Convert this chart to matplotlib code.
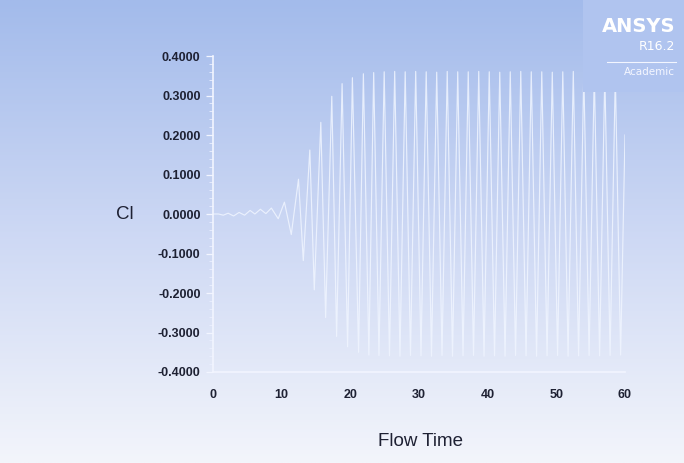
import numpy as np
import matplotlib
matplotlib.use("Agg")
import matplotlib.pyplot as plt
from matplotlib.patches import Rectangle
from matplotlib.lines import Line2D

# ---- data (successive extrema of Cl vs flow time) ----
cl_time = [0.0, 0.8, 1.5, 2.2, 3.0, 3.8, 4.6, 5.4, 6.1, 6.9, 7.7, 8.5, 9.5, 10.4,
           11.4, 12.45, 13.15, 14.1, 14.75, 15.7, 16.4, 17.3, 18.0, 18.8, 19.6,
           20.3, 21.2, 21.9, 22.7,
           23.40, 24.17, 24.93, 25.70, 26.46, 27.23, 27.99, 28.76, 29.52, 30.29,
           31.05, 31.82, 32.58, 33.35, 34.11, 34.88, 35.64, 36.41, 37.17, 37.94,
           38.70, 39.47, 40.23, 41.00, 41.76, 42.53, 43.29, 44.06, 44.82, 45.59,
           46.35, 47.12, 47.88, 48.65, 49.41, 50.18, 50.94, 51.71, 52.47, 53.24,
           54.00, 54.77, 55.53, 56.30, 57.06, 57.83, 58.59, 59.36, 60.0]
cl_value = [0.0, 0.0, -0.003, 0.002, -0.005, 0.004, -0.003, 0.009, 0.0, 0.012, 0.001,
            0.015, -0.012, 0.030, -0.052, 0.088, -0.118, 0.162, -0.192, 0.232, -0.262,
            0.298, -0.310, 0.330, -0.336, 0.345, -0.350, 0.355, -0.357,
            0.358, -0.358, 0.360, -0.359, 0.361, -0.360, 0.360, -0.358, 0.361, -0.359,
            0.360, -0.360, 0.359, -0.358, 0.361, -0.360, 0.360, -0.359, 0.360, -0.358,
            0.361, -0.360, 0.360, -0.359, 0.359, -0.360, 0.360, -0.358, 0.361, -0.359,
            0.360, -0.360, 0.360, -0.359, 0.359, -0.358, 0.360, -0.360, 0.361, -0.359,
            0.360, -0.358, 0.358, -0.359, 0.356, -0.358, 0.352, -0.357, 0.20]
y_ticks = [-0.4, -0.3, -0.2, -0.1, 0.0, 0.1, 0.2, 0.3, 0.4]
x_ticks = [0, 10, 20, 30, 40, 50, 60]
x_label = "Flow Time"
y_label = "Cl"

W, H = 684, 463
fig = plt.figure(figsize=(W / 100, H / 100), dpi=100)

# gradient background
bg = fig.add_axes([0, 0, 1, 1], zorder=-2)
top = np.array([163, 187, 235]) / 255.0
mid = np.array([205, 216, 244]) / 255.0
bot = np.array([243, 245, 251]) / 255.0
n = 256
s = np.linspace(0, 1, n)[:, None]
grad = np.where(s < 0.5, top + (mid - top) * (s / 0.5), mid + (bot - mid) * ((s - 0.5) / 0.5))
grad = np.repeat(grad[:, None, :], 2, axis=1)
bg.imshow(grad, aspect="auto", extent=[0, 1, 0, 1], origin="upper")
bg.set_axis_off()

# main axes
x0, x1 = 213, 625
y0, y1 = 56, 372
ax = fig.add_axes([x0 / W, 1 - y1 / H, (x1 - x0) / W, (y1 - y0) / H], zorder=1)
ax.set_facecolor("none")
ax.plot(cl_time, cl_value, color=(0.94, 0.96, 1.0), lw=0.85, alpha=0.85)
ax.set_xlim(0, 60)
ax.set_ylim(-0.4, 0.4)

for side in ["top", "right"]:
    ax.spines[side].set_visible(False)
for side in ["left", "bottom"]:
    ax.spines[side].set_color((0.95, 0.96, 1.0))
    ax.spines[side].set_linewidth(1.2)

ax.set_yticks(y_ticks)
ax.set_yticklabels([f"{abs(v):.4f}" if abs(v) < 1e-12 else f"{v:.4f}" for v in y_ticks])
ax.set_yticks(np.arange(-0.4, 0.4001, 0.02), minor=True)
ax.set_xticks(x_ticks)
ax.set_xticklabels([str(v) for v in x_ticks])

tick_color = "#1e2133"
ax.tick_params(axis="y", which="major", length=5, width=0.9, color=(0.95, 0.96, 1.0),
               labelsize=9, labelcolor=tick_color, pad=4)
ax.tick_params(axis="y", which="minor", length=3, width=0.6, color=(0.92, 0.94, 1.0))
ax.tick_params(axis="x", which="major", length=0, labelsize=9, labelcolor=tick_color, pad=12)
for lab in ax.get_xticklabels() + ax.get_yticklabels():
    lab.set_fontfamily("Liberation Sans")
    lab.set_fontweight("bold")

fig.text(125 / W, 1 - 214 / H, y_label, fontsize=13.5, family="Liberation Sans",
         color="#1e2133", ha="center", va="center")
fig.text(420 / W, 1 - 441 / H, x_label, fontsize=13.5, family="Liberation Sans",
         color="#1e2133", ha="center", va="center")

# ANSYS logo box
box = Rectangle((583 / W, 1 - 92 / H), (W - 583) / W, 92 / H, transform=fig.transFigure,
                facecolor=(176 / 255, 196 / 255, 239 / 255), edgecolor="none", zorder=5)
fig.add_artist(box)
fig.text(675 / W, 1 - 27 / H, "ANSYS", fontsize=14, fontweight="bold", family="DejaVu Sans",
         color="white", ha="right", va="center", zorder=6)
fig.text(675 / W, 1 - 47 / H, "R16.2", fontsize=9, family="DejaVu Sans",
         color="white", ha="right", va="center", zorder=6)
fig.add_artist(Line2D([607 / W, 676 / W], [1 - 62 / H, 1 - 62 / H], transform=fig.transFigure,
                      color=(0.95, 0.96, 1.0), lw=0.8, zorder=6))
fig.text(675 / W, 1 - 72 / H, "Academic", fontsize=7.5, family="DejaVu Sans",
         color=(0.96, 0.97, 1.0), ha="right", va="center", zorder=6)

fig.savefig("out.png", dpi=100)
